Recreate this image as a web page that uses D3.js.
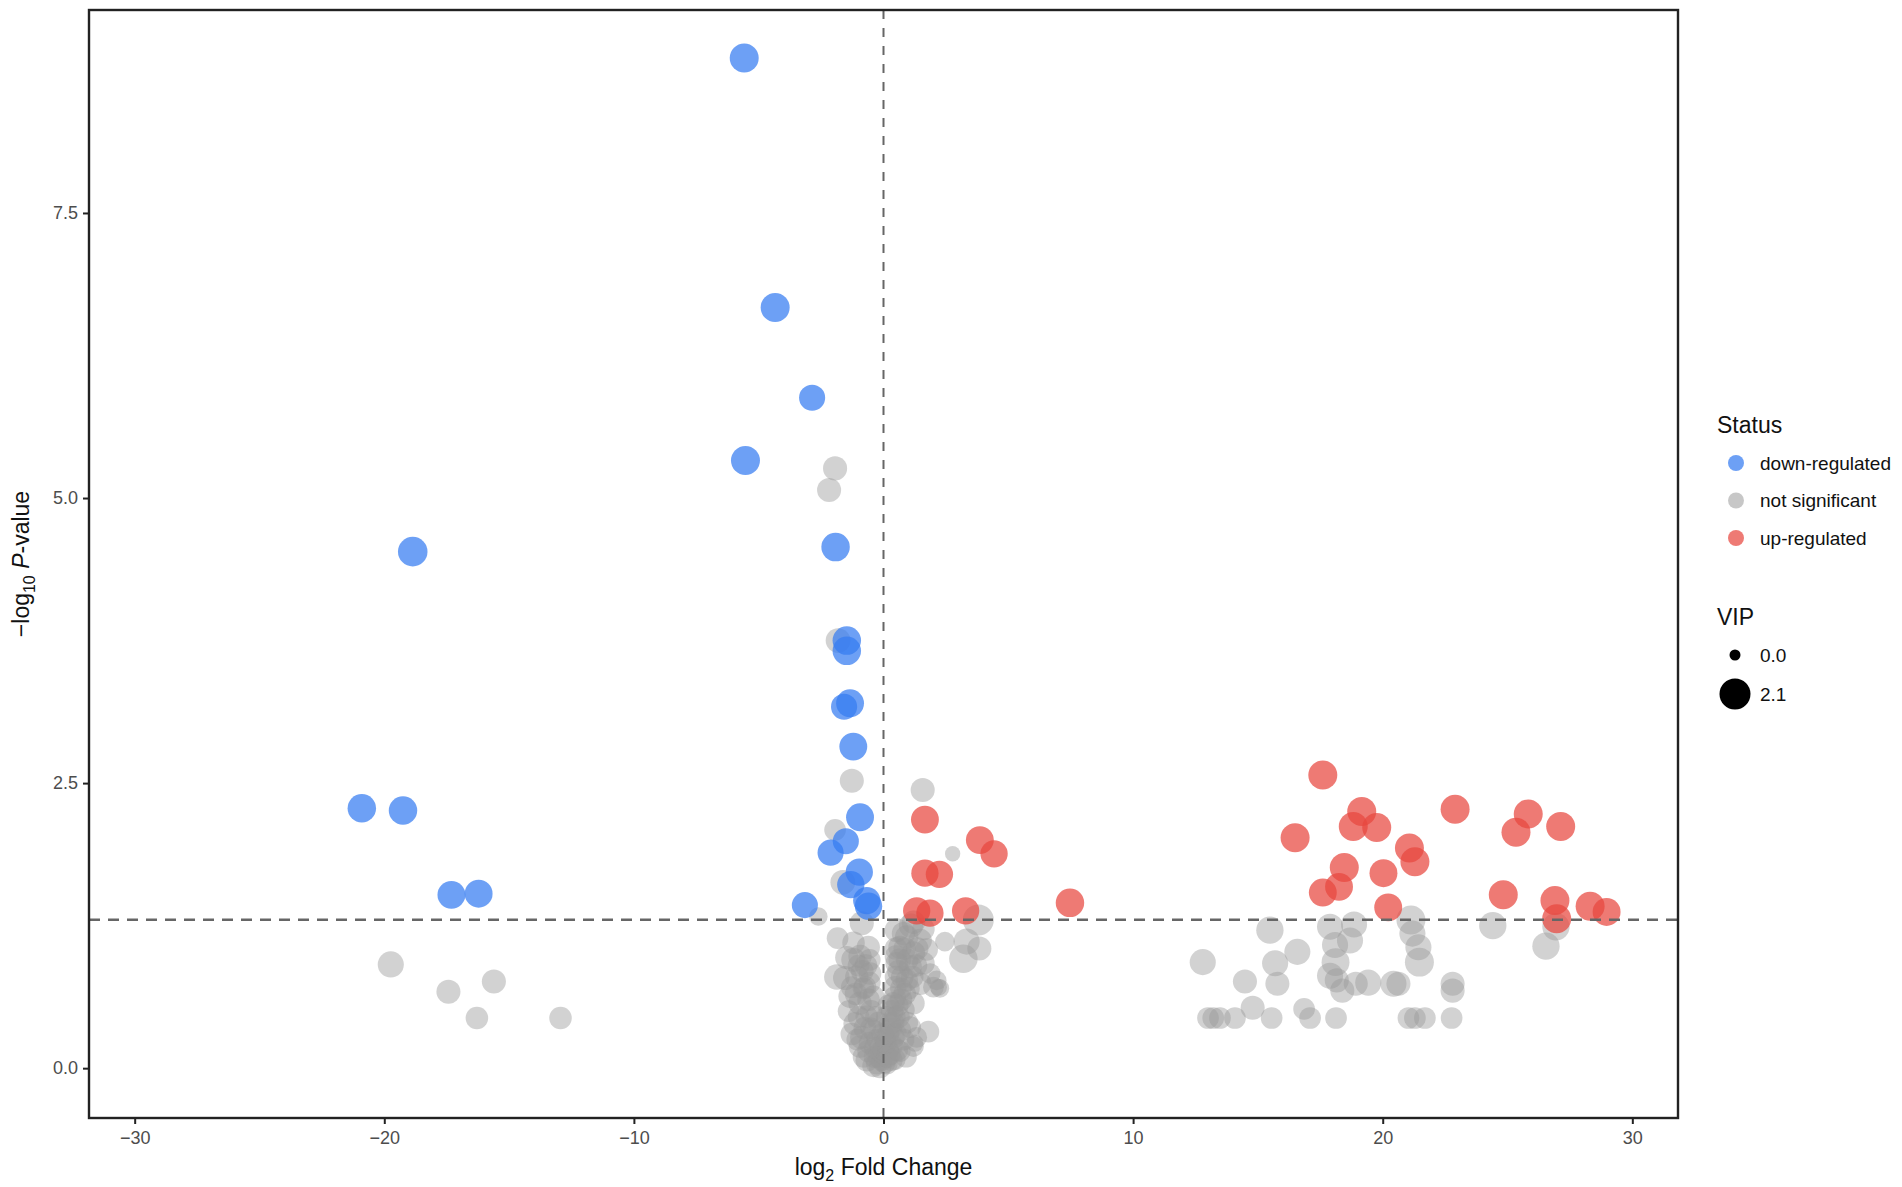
<!DOCTYPE html>
<html lang="en">
<head>
<meta charset="UTF-8">
<title>Volcano plot</title>
<style>
  body { margin: 0; background: #fff; font-family: "Liberation Sans", Arial, sans-serif; }
  .tick text { fill: #4d4d4d; font-size: 18px; }
</style>
</head>
<body>
<svg id="chart"></svg>
<script src="https://d3js.org/d3.v7.min.js"></script>
<script>
// [log2 fold change, -log10 p-value, VIP]
const downRegulated = [
  [-5.58, 8.86, 1.7], [-4.34, 6.67, 1.7], [-2.86, 5.88, 1.2], [-5.53, 5.33, 1.7],
  [-18.86, 4.53, 1.8], [-1.92, 4.57, 1.6], [-1.47, 3.75, 1.6], [-1.47, 3.66, 1.6],
  [-1.34, 3.20, 1.5], [-1.58, 3.17, 1.2], [-1.21, 2.82, 1.5], [-0.94, 2.20, 1.5],
  [-1.51, 1.99, 1.2], [-2.12, 1.89, 1.2], [-0.97, 1.72, 1.4], [-1.31, 1.61, 1.4],
  [-0.67, 1.47, 1.4], [-0.60, 1.42, 1.4], [-3.15, 1.43, 1.2], [-20.90, 2.28, 1.6],
  [-19.25, 2.26, 1.6], [-17.31, 1.52, 1.5], [-16.22, 1.53, 1.5]
];
const upRegulated = [
  [1.66, 2.18, 1.5], [3.86, 2.00, 1.5], [4.43, 1.88, 1.4], [1.66, 1.71, 1.4],
  [2.24, 1.70, 1.4], [1.33, 1.38, 1.4], [1.86, 1.36, 1.4], [3.29, 1.38, 1.4],
  [7.47, 1.45, 1.6], [17.60, 2.57, 1.7], [19.16, 2.25, 1.7], [18.82, 2.12, 1.7],
  [19.76, 2.11, 1.7], [16.49, 2.02, 1.7], [22.90, 2.27, 1.7], [21.07, 1.93, 1.7],
  [21.29, 1.81, 1.7], [18.46, 1.76, 1.7], [20.03, 1.71, 1.5], [18.25, 1.59, 1.5],
  [17.60, 1.54, 1.5], [20.22, 1.41, 1.5], [25.83, 2.23, 1.7], [25.34, 2.07, 1.7],
  [27.13, 2.12, 1.7], [24.83, 1.52, 1.7], [26.90, 1.47, 1.7], [26.97, 1.31, 1.7],
  [28.31, 1.42, 1.7], [28.97, 1.37, 1.5]
];
const notSignificant = [
  // far left
  [-19.74, 0.91, 1.2], [-17.43, 0.67, 0.9], [-15.61, 0.76, 0.9], [-16.29, 0.44, 0.7],
  [-12.94, 0.44, 0.7],
  // near zero, upper
  [-1.94, 5.26, 0.9], [-2.18, 5.07, 0.9], [-1.82, 3.75, 1.0], [-1.27, 2.52, 0.9],
  [1.57, 2.44, 0.9], [-1.94, 2.09, 0.6], [2.77, 1.88, 0.1], [-1.63, 1.63, 1.0],
  [-2.61, 1.33, 0.3], [3.80, 1.30, 2.1], [-0.87, 1.27, 0.9], [-1.84, 1.14, 0.6],
  [2.46, 1.11, 0.4], [3.33, 1.11, 1.2], [3.84, 1.05, 0.9], [3.20, 0.96, 1.6],
  [1.80, 0.32, 0.6], [1.26, 0.22, 0.2], [2.20, 0.71, 0.2],
  // central cluster, left arm
  [-0.61, 1.06, 0.8], [-0.94, 0.98, 0.8], [-1.21, 0.95, 0.9], [-1.54, 0.79, 0.9],
  [-1.07, 0.80, 0.8], [-0.54, 0.83, 0.7], [-1.34, 0.63, 0.8], [-0.94, 0.57, 0.8],
  [-1.14, 0.39, 0.8], [-0.67, 0.45, 0.7], [-0.87, 0.27, 0.8], [-0.54, 0.22, 0.7],
  [-0.34, 0.10, 0.7], [-0.14, 0.01, 0.7], [-0.27, 0.04, 0.6], [-0.40, 0.33, 0.6],
  [-0.14, 0.19, 0.6], [-0.07, 0.07, 0.6], [-0.74, 0.71, 0.7], [-0.40, 0.63, 0.6],
  [-1.27, 0.71, 0.6], [-1.27, 0.30, 0.7], [-0.94, 0.19, 0.7], [-0.67, 0.07, 0.7],
  [-0.40, 0.02, 0.7], [-1.87, 0.80, 1.1], [-1.47, 0.97, 0.8], [-0.50, 0.50, 0.7],
  [-0.60, 0.60, 0.7], [-0.80, 0.70, 0.6], [-0.85, 0.85, 0.7], [-1.00, 0.90, 0.6],
  [-0.70, 0.90, 0.7], [-0.50, 0.35, 0.6], [-0.75, 0.35, 0.7], [-1.00, 0.45, 0.6],
  [-0.60, 0.15, 0.7], [-0.80, 0.10, 0.6], [-1.05, 0.25, 0.6], [-1.10, 0.65, 0.7],
  [-1.40, 0.50, 0.6], [-0.30, 0.45, 0.6], [-0.20, 0.40, 0.6], [-0.55, 0.75, 0.6],
  [-1.20, 1.10, 0.7], [-0.55, 0.95, 0.6], [-0.20, 0.10, 0.6], [-0.10, 0.15, 0.6],
  [-0.25, 0.25, 0.6], [-0.35, 0.18, 0.6], [-0.05, 0.30, 0.6],
  // central cluster, right arm
  [0.53, 1.21, 0.9], [0.93, 1.15, 0.8], [1.47, 1.12, 0.8], [1.73, 1.04, 0.7],
  [1.20, 1.01, 0.8], [0.66, 1.06, 0.8], [1.60, 0.92, 0.7], [1.07, 0.89, 0.8],
  [0.53, 0.92, 0.7], [2.00, 0.71, 0.5], [2.26, 0.70, 0.3], [1.47, 0.74, 0.7],
  [0.93, 0.77, 0.7], [0.47, 0.71, 0.7], [1.20, 0.57, 0.7], [0.80, 0.51, 0.7],
  [0.40, 0.57, 0.7], [1.07, 0.36, 0.6], [0.66, 0.33, 0.7], [1.33, 0.27, 0.5],
  [1.20, 0.19, 0.5], [0.40, 0.27, 0.7], [0.26, 0.39, 0.7], [0.53, 0.16, 0.7],
  [0.13, 0.04, 0.6], [0.19, 0.16, 0.6], [0.33, 0.07, 0.6], [0.13, 0.45, 0.6],
  [0.50, 0.80, 0.7], [0.50, 0.98, 0.7], [0.06, 0.27, 0.6], [0.00, 0.16, 0.6],
  [1.87, 0.83, 0.5], [2.13, 0.77, 0.4], [0.80, 1.18, 0.8], [1.10, 1.25, 0.9],
  [0.70, 0.70, 0.6], [0.90, 0.10, 0.6], [0.45, 0.45, 0.6], [0.35, 0.20, 0.6],
  [1.20, 1.28, 0.8], [1.60, 1.22, 0.7], [0.05, 0.05, 0.6], [0.15, 0.10, 0.6],
  [0.25, 0.12, 0.6], [0.10, 0.22, 0.6], [0.20, 0.30, 0.6], [0.30, 0.35, 0.6],
  [0.40, 0.40, 0.6], [0.50, 0.30, 0.6], [0.35, 0.50, 0.7], [0.55, 0.55, 0.7],
  [0.20, 0.55, 0.6], [0.45, 0.62, 0.7], [0.60, 0.45, 0.7], [0.70, 0.60, 0.7],
  [0.85, 0.65, 0.7], [0.75, 0.80, 0.7], [0.60, 0.85, 0.7], [0.95, 0.95, 0.7],
  [0.85, 1.05, 0.7], [1.00, 0.70, 0.7], [1.15, 0.80, 0.7], [1.30, 0.90, 0.7],
  [1.35, 1.05, 0.7], [0.50, 1.05, 0.7], [0.65, 0.95, 0.7], [0.95, 0.40, 0.6],
  [0.80, 0.25, 0.6], [0.65, 0.15, 0.6], [0.45, 0.08, 0.6],
  // far right
  [15.48, 1.21, 1.4], [12.79, 0.93, 1.2], [14.48, 0.76, 0.9], [15.69, 0.92, 1.2],
  [15.78, 0.74, 0.9], [16.58, 1.02, 1.2], [14.79, 0.53, 0.9], [13.00, 0.44, 0.6],
  [13.21, 0.44, 0.6], [13.48, 0.44, 0.6], [14.08, 0.44, 0.6], [15.55, 0.44, 0.6],
  [16.85, 0.52, 0.6], [17.09, 0.44, 0.6], [18.13, 0.44, 0.6], [17.89, 1.24, 1.2],
  [18.85, 1.26, 1.2], [18.69, 1.12, 1.2], [18.09, 1.08, 1.2], [18.11, 0.93, 1.5],
  [17.89, 0.81, 1.2], [18.16, 0.77, 0.9], [18.38, 0.68, 0.9], [18.92, 0.74, 0.9],
  [19.42, 0.75, 1.2], [20.43, 0.74, 1.2], [20.63, 0.74, 0.9], [21.13, 1.30, 1.7],
  [21.19, 1.18, 1.2], [21.43, 1.06, 1.2], [21.47, 0.93, 1.7], [22.80, 0.74, 0.9],
  [22.80, 0.68, 0.9], [21.03, 0.44, 0.6], [21.29, 0.44, 0.6], [21.69, 0.44, 0.6],
  [22.76, 0.44, 0.6], [24.41, 1.25, 1.4], [26.94, 1.24, 1.4], [26.54, 1.07, 1.4]
];

const statusNames = ['down-regulated', 'not significant', 'up-regulated'];
const statusColors = ['#357BF1', '#999999', '#E8473F'];
const statusOpacity = [0.72, 0.44, 0.72];
const vipBreaks = [0.0, 2.1];
const xTicks = [-30, -20, -10, 0, 10, 20, 30];
const yTicks = [0, 2.5, 5, 7.5];
const pThreshold = 1.301; // -log10(0.05)

const width = 1902, height = 1187;
const panel = { left: 89, right: 1678, top: 10, bottom: 1118 };

const svg = d3.select('#chart').attr('width', width).attr('height', height);

const x = d3.scaleLinear().domain([-31.83, 31.83]).range([panel.left, panel.right]);
const y = d3.scaleLinear().domain([-0.437, 9.28]).range([panel.bottom, panel.top]);
const r = d3.scaleSqrt().domain([0, 2.1]).range([5.5, 15.5]);
const color = d3.scaleOrdinal().domain(statusNames).range(statusColors);
const alpha = d3.scaleOrdinal().domain(statusNames).range(statusOpacity);

const points = [
  ...notSignificant.map(d => ({ fc: d[0], p: d[1], vip: d[2], status: 'not significant' })),
  ...downRegulated.map(d => ({ fc: d[0], p: d[1], vip: d[2], status: 'down-regulated' })),
  ...upRegulated.map(d => ({ fc: d[0], p: d[1], vip: d[2], status: 'up-regulated' }))
];

// points
svg.append('g')
  .selectAll('circle')
  .data(points)
  .enter()
  .append('circle')
  .attr('cx', d => x(d.fc))
  .attr('cy', d => y(d.p))
  .attr('r', d => r(d.vip))
  .attr('fill', d => color(d.status))
  .attr('fill-opacity', d => alpha(d.status));

// reference lines
svg.append('line')
  .attr('x1', x(0)).attr('x2', x(0))
  .attr('y1', panel.top).attr('y2', panel.bottom)
  .attr('stroke', '#666').attr('stroke-width', 2)
  .attr('stroke-dasharray', '9,9');
svg.append('line')
  .attr('x1', panel.left).attr('x2', panel.right)
  .attr('y1', y(pThreshold)).attr('y2', y(pThreshold))
  .attr('stroke', '#666').attr('stroke-width', 2.5)
  .attr('stroke-dasharray', '11,8');

// axes
const xAxis = svg.append('g')
  .attr('transform', `translate(0,${panel.bottom})`)
  .call(d3.axisBottom(x).tickValues(xTicks).tickSize(6).tickPadding(7).tickSizeOuter(0));
const yAxis = svg.append('g')
  .attr('transform', `translate(${panel.left},0)`)
  .call(d3.axisLeft(y).tickValues(yTicks).tickFormat(d3.format('.1f')).tickSize(6).tickPadding(5).tickSizeOuter(0));
[xAxis, yAxis].forEach(a => {
  a.select('.domain').remove();
  a.selectAll('.tick line').attr('stroke', '#222').attr('stroke-width', 2);
  a.selectAll('.tick text').attr('font-family', '"Liberation Sans", Arial, sans-serif');
});

// panel border
svg.append('rect')
  .attr('x', panel.left).attr('y', panel.top)
  .attr('width', panel.right - panel.left).attr('height', panel.bottom - panel.top)
  .attr('fill', 'none').attr('stroke', '#222').attr('stroke-width', 2.4);

// axis titles
const xTitle = svg.append('text')
  .attr('x', (panel.left + panel.right) / 2).attr('y', 1175)
  .attr('text-anchor', 'middle').attr('font-size', 23).attr('fill', '#111');
xTitle.append('tspan').text('log');
xTitle.append('tspan').attr('dy', 6).attr('font-size', 16).text('2');
xTitle.append('tspan').attr('dy', -6).text(' Fold Change');

const yTitle = svg.append('text')
  .attr('transform', `translate(29,${(panel.top + panel.bottom) / 2}) rotate(-90)`)
  .attr('text-anchor', 'middle').attr('font-size', 23).attr('fill', '#111');
yTitle.append('tspan').text('\u2212log');
yTitle.append('tspan').attr('dy', 6).attr('font-size', 16).text('10');
yTitle.append('tspan').attr('dy', -6).text(' ');
yTitle.append('tspan').attr('font-style', 'italic').text('P');
yTitle.append('tspan').text('-value');

// legend: status
const legX = 1717;
svg.append('text').attr('x', legX).attr('y', 433)
  .attr('font-size', 23).attr('fill', '#111').text('Status');
const statusItems = svg.append('g')
  .selectAll('g')
  .data(statusNames)
  .enter()
  .append('g')
  .attr('transform', (d, i) => `translate(0,${463 + i * 37.5})`);
statusItems.append('circle')
  .attr('cx', 1736).attr('cy', 0).attr('r', 8)
  .attr('fill', d => color(d)).attr('fill-opacity', d => Math.max(alpha(d), 0.55));
statusItems.append('text')
  .attr('x', 1760).attr('dy', '0.35em')
  .attr('font-size', 19).attr('fill', '#111')
  .text(d => d);

// legend: VIP
svg.append('text').attr('x', legX).attr('y', 625)
  .attr('font-size', 23).attr('fill', '#111').text('VIP');
const vipItems = svg.append('g')
  .selectAll('g')
  .data(vipBreaks)
  .enter()
  .append('g')
  .attr('transform', (d, i) => `translate(0,${[655, 694][i]})`);
vipItems.append('circle')
  .attr('cx', 1735).attr('cy', 0).attr('r', d => r(d))
  .attr('fill', '#000');
vipItems.append('text')
  .attr('x', 1760).attr('dy', '0.35em')
  .attr('font-size', 19).attr('fill', '#111')
  .text(d => d3.format('.1f')(d));
</script>
</body>
</html>
